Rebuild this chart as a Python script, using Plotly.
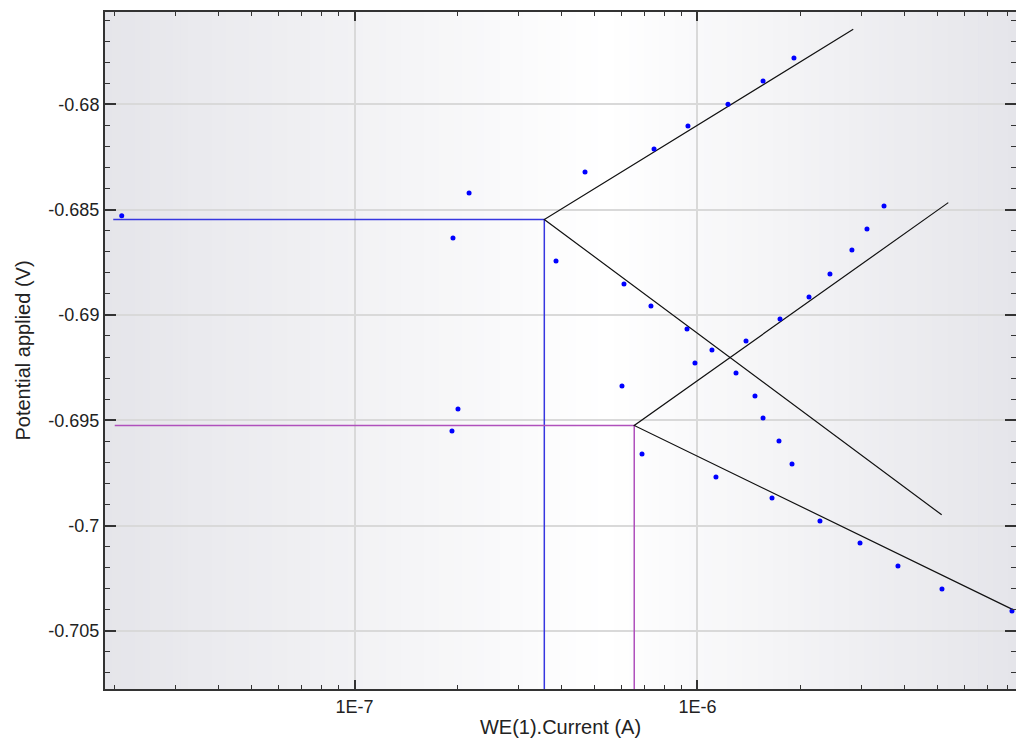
import plotly.graph_objects as go

# ---------------- data ----------------
# Scan 1 : current (A) and potential (V)
scan1_current = [1.911e-6, 1.553e-6, 1.227e-6, 9.38e-7, 7.47e-7, 4.70e-7, 2.158e-7, 2.096e-8,
                 1.937e-7, 3.868e-7, 6.105e-7, 7.316e-7, 9.32e-7, 1.102e-6, 1.295e-6, 1.471e-6,
                 1.553e-6, 1.728e-6, 1.886e-6]
scan1_potential = [-0.67780, -0.67889, -0.68000, -0.68103, -0.68212, -0.68321, -0.68421, -0.68529,
                   -0.68635, -0.68744, -0.68853, -0.68958, -0.69067, -0.69167, -0.69276, -0.69385,
                   -0.69489, -0.69599, -0.69708]

# Scan 2
scan2_current = [3.498e-6, 3.120e-6, 2.820e-6, 2.433e-6, 2.114e-6, 1.740e-6, 1.385e-6, 9.83e-7,
                 6.024e-7, 2.003e-7, 1.924e-7, 6.89e-7, 1.132e-6, 1.649e-6, 2.275e-6, 2.977e-6,
                 3.841e-6, 5.162e-6, 8.258e-6]
scan2_potential = [-0.68483, -0.68592, -0.68692, -0.68806, -0.68915, -0.69019, -0.69124, -0.69228,
                   -0.69338, -0.69447, -0.69551, -0.69660, -0.69770, -0.69869, -0.69978, -0.70083,
                   -0.70192, -0.70301, -0.70406]

# Corrosion point (Ecorr, icorr) of each Tafel fit
icorr = [3.576e-7, 6.54e-7]
ecorr = [-0.68547, -0.69525]

# Tafel line end points (anodic / cathodic) for each fit
anodic_end_current = [2.845e-6, 5.385e-6]
anodic_end_potential = [-0.67644, -0.68467]
cathodic_end_current = [5.151e-6, 8.31e-6]
cathodic_end_potential = [-0.69949, -0.70399]

# Start of horizontal Ecorr marker lines
marker_start_current = [1.98e-8, 2.0e-8]

# Axes
x_range_log = [-7.7274, -5.0714]
y_range = [-0.70776, -0.67562]
x_tick_vals = [1e-7, 1e-6]
x_tick_text = ["1E-7", "1E-6"]
x_minor_vals = [2e-8, 3e-8, 4e-8, 5e-8, 6e-8, 7e-8, 8e-8, 9e-8,
                2e-7, 3e-7, 4e-7, 5e-7, 6e-7, 7e-7, 8e-7, 9e-7,
                2e-6, 3e-6, 4e-6, 5e-6, 6e-6, 7e-6, 8e-6]
y_tick_vals = [-0.705, -0.70, -0.695, -0.69, -0.685, -0.68]
y_tick_text = ["-0.705", "-0.7", "-0.695", "-0.69", "-0.685", "-0.68"]
y_minor_vals = [-0.707, -0.706, -0.704, -0.703, -0.702, -0.701, -0.699, -0.698, -0.697, -0.696,
                -0.694, -0.693, -0.692, -0.691, -0.689, -0.688, -0.687, -0.686, -0.684,
                -0.683, -0.682, -0.681, -0.679, -0.678, -0.677, -0.676]

marker_colors = ["#3636e0", "#b050bc"]

# ---------------- figure ----------------
fig = go.Figure()

# background horizontal gradient (grey at the sides, white toward the middle)
n_strips = 120
peak = 0.55
edge = (229, 229, 234)
shapes = []
for i in range(n_strips):
    f0 = i / n_strips
    f1 = (i + 1) / n_strips
    fm = (f0 + f1) / 2
    t = fm / peak if fm <= peak else (1 - fm) / (1 - peak)
    t = max(0.0, min(1.0, t))
    c = tuple(round(e + (255 - e) * t) for e in edge)
    shapes.append(dict(type="rect", xref="x domain", yref="y domain",
                       x0=f0, x1=f1 + 0.002, y0=0, y1=1, layer="below",
                       line=dict(width=0), fillcolor="rgb(%d,%d,%d)" % c))

# Ecorr / icorr marker lines
for k in range(2):
    fig.add_trace(go.Scatter(
        x=[marker_start_current[k], icorr[k], icorr[k]],
        y=[ecorr[k], ecorr[k], y_range[0]],
        mode="lines", line=dict(color=marker_colors[k], width=1.5),
        showlegend=False, hoverinfo="skip"))

# Tafel lines
for k in range(2):
    fig.add_trace(go.Scatter(
        x=[anodic_end_current[k], icorr[k], cathodic_end_current[k]],
        y=[anodic_end_potential[k], ecorr[k], cathodic_end_potential[k]],
        mode="lines", line=dict(color="#111111", width=1.2),
        showlegend=False, hoverinfo="skip"))

# data points
for cur, pot in [(scan1_current, scan1_potential), (scan2_current, scan2_potential)]:
    fig.add_trace(go.Scatter(
        x=cur, y=pot, mode="markers",
        marker=dict(color="#0000ff", size=5, line=dict(width=0)),
        showlegend=False))

axis_font = dict(family="Liberation Sans, Arial, sans-serif", size=18, color="#222222")
title_font = dict(family="Liberation Sans, Arial, sans-serif", size=20, color="#222222")

fig.update_layout(
    width=1016, height=740,
    margin=dict(l=105, r=0, t=12, b=51, autoexpand=False),
    paper_bgcolor="white",
    plot_bgcolor="rgb(240,240,243)",
    shapes=shapes,
    xaxis=dict(
        type="log", range=x_range_log,
        tickmode="array", tickvals=x_tick_vals, ticktext=x_tick_text,
        ticks="inside", ticklen=9, tickwidth=1.5, tickcolor="#333333",
        minor=dict(tickmode="array", tickvals=x_minor_vals, ticks="inside",
                   ticklen=4, tickwidth=1.2, tickcolor="#333333", showgrid=False),
        showline=True, linecolor="#333333", linewidth=2, mirror="ticks",
        showgrid=True, gridcolor="#d9d9d9", gridwidth=2,
        zeroline=False, tickfont=axis_font, automargin=False,
        title=dict(text="WE(1).Current (A)", font=title_font, standoff=4),
    ),
    yaxis=dict(
        range=y_range,
        tickmode="array", tickvals=y_tick_vals, ticktext=y_tick_text,
        ticks="inside", ticklen=11, tickwidth=1.5, tickcolor="#333333",
        minor=dict(tickmode="array", tickvals=y_minor_vals, ticks="inside",
                   ticklen=5, tickwidth=1.2, tickcolor="#333333", showgrid=False),
        showline=True, linecolor="#333333", linewidth=2, mirror="ticks",
        showgrid=True, gridcolor="#d9d9d9", gridwidth=2,
        zeroline=False, tickfont=axis_font, automargin=False,
        title=dict(text="Potential applied (V)", font=title_font, standoff=12),
    ),
)

fig.write_html("out.html", config={"displayModeBar": False},
               post_script="document.body.style.margin='0px';document.body.style.overflow='hidden';")
